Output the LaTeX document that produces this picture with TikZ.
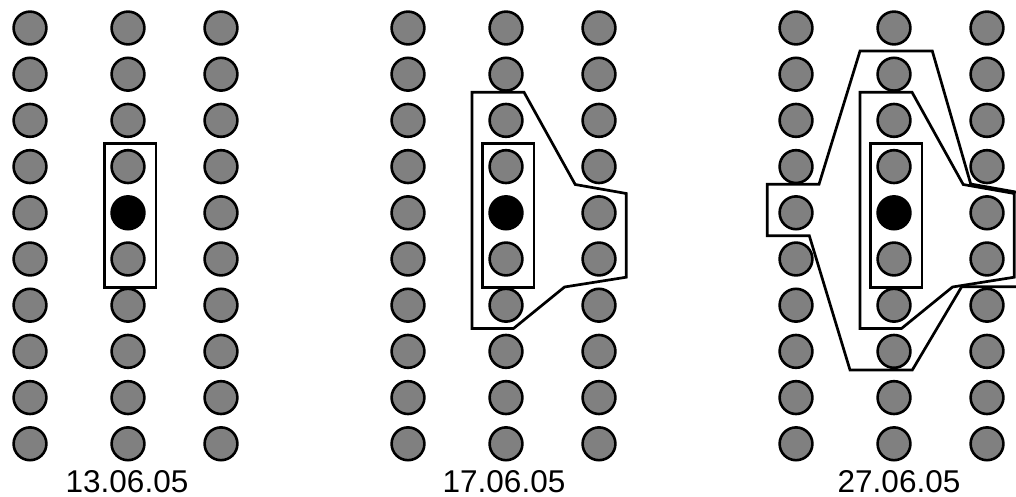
\documentclass[tikz,border=0pt]{standalone}
\usepackage{fontspec}
\setmainfont{Liberation Sans}
\definecolor{dotgray}{RGB}{128,128,128}
\begin{document}
\begin{tikzpicture}[x=1pt,y=-1pt,
  dot/.style={circle,draw=black,fill=dotgray,line width=2.6pt,minimum size=32.8pt,inner sep=0pt},
  hotdot/.style={dot,fill=black},
  zone/.style={draw=black,line width=2.7pt,line join=miter},
  datelabel/.style={font=\fontsize{31.5}{36}\selectfont,anchor=base,inner sep=0pt}]
\useasboundingbox (0,0) rectangle (1016,497);
\clip (0,0) rectangle (1016,497);
% dots
\foreach \p/\ox in {1/0,2/378,3/766} {
  \foreach \c/\cx in {1/30,2/128,3/221} {
    \foreach \r in {0,...,9} {
      \ifnum\c\r=24 \def\st{hotdot}\else\def\st{dot}\fi
      \node[\st] (d\p-\c-\r) at ({\ox+\cx},{28+46.2*\r}) {};
    }
  }
}
% inner rectangles
\foreach \ox in {0,378,766} {
  \draw[zone] ({\ox+104.7},143.5) rectangle ({\ox+156},287.3);
}
% middle zones
\foreach \ox in {378,766} {
  \begin{scope}[shift={(\ox,0)}]
    \draw[zone] (94,92.2) -- (146,92.2) -- (197.2,184.5) -- (248.3,193.5) -- (248.3,277.2) -- (186.5,287) -- (135.5,328.5) -- (94,328.5) -- cycle;
  \end{scope}
}
% outer zone
\begin{scope}[shift={(766,0)}]
  \draw[zone] (1.3,184.3) -- (53,184.3) -- (94,51) -- (166.3,51) -- (204.7,184) -- (275,196.5) -- (275,286.7) -- (195.7,286.7) -- (146.3,370) -- (84,370) -- (43.3,235.7) -- (1.3,235.7) -- cycle;
\end{scope}
% labels
\node[datelabel] (t1) at (127,492) {13.06.05};
\node[datelabel] (t2) at (504,492) {17.06.05};
\node[datelabel] (t3) at (899,492) {27.06.05};
\end{tikzpicture}
\end{document}
